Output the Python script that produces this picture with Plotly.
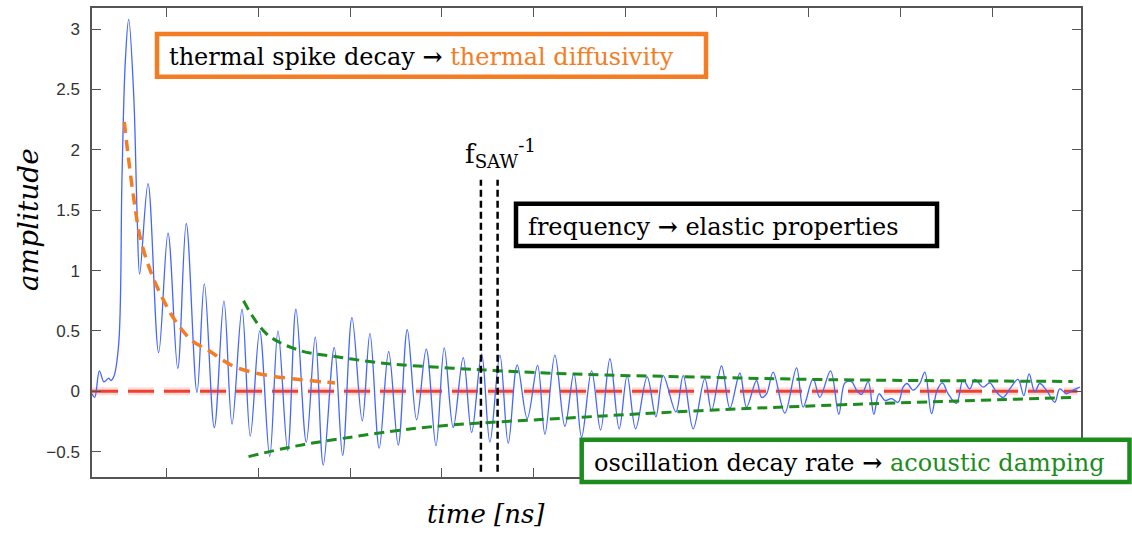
import plotly.graph_objects as go

# ---------------- data ----------------
signal_t = [0.185, 0.215, 0.265, 0.313, 0.338, 0.367, 0.392, 0.422, 0.476, 0.512,
            0.548, 0.585, 0.640, 0.676, 0.705, 0.796, 0.912, 1.014, 1.120, 1.213,
            1.330, 1.410, 1.519, 1.624, 1.712, 1.821, 1.911, 2.014, 2.123, 2.213,
            2.319, 2.409, 2.522, 2.620, 2.707, 2.827, 2.918, 3.020, 3.132, 3.216,
            3.317, 3.420, 3.525, 3.623, 3.725, 3.830, 3.936, 4.026, 4.124, 4.233,
            4.325, 4.434, 4.524, 4.633, 4.724, 4.822, 4.931, 5.044, 5.124, 5.233,
            5.342, 5.440, 5.524, 5.633, 5.731, 5.833, 5.934, 6.021, 6.113, 6.239,
            6.334, 6.414, 6.552, 6.632, 6.741, 6.868, 6.941, 7.050, 7.141, 7.250,
            7.323, 7.432, 7.486, 7.541, 7.613, 7.740, 7.868, 7.940, 8.049, 8.122,
            8.239, 8.329, 8.395, 8.468, 8.522, 8.577, 8.649, 8.711, 8.768, 8.831,
            8.904, 8.976, 9.030, 9.074, 9.139, 9.212, 9.267, 9.340, 9.401, 9.459,
            9.521, 9.612, 9.684, 9.757, 9.812, 9.902, 9.975, 10.048, 10.120, 10.193,
            10.284, 10.346, 10.404, 10.466, 10.520, 10.593, 10.684, 10.738, 10.811, 10.884,
            10.957]
signal_amp = [-0.02, -0.05, 0.17, 0.08, 0.09, 0.11, 0.09, 0.12, 0.39, 1.77,
              2.73, 3.08, 2.45, 1.49, 0.97, 1.72, 0.32, 1.31, 0.19, 1.39,
              -0.01, 0.89, -0.30, 0.75, -0.27, 0.68, -0.37, 0.50, -0.54, 0.50,
              -0.49, 0.68, -0.42, 0.45, -0.61, 0.365, -0.53, 0.61, -0.245, 0.48,
              -0.47, 0.33, -0.445, 0.51, -0.235, 0.35, -0.45, 0.36, -0.30, 0.28,
              -0.34, 0.31, -0.42, 0.30, -0.43, 0.22, -0.225, 0.215, -0.355, 0.30,
              -0.29, 0.15, -0.38, 0.17, -0.32, 0.27, -0.31, 0.13, -0.31, 0.12,
              -0.21, 0.13, -0.17, 0.13, -0.31, 0.105, -0.16, 0.21, -0.14, 0.15,
              -0.13, 0.09, -0.05, -0.02, 0.16, -0.18, 0.195, -0.13, 0.105, -0.05,
              0.17, -0.19, 0.07, 0.08, 0.01, -0.025, 0.08, -0.19, -0.02, -0.075,
              -0.06, -0.09, 0.035, 0.065, 0.01, 0.065, 0.16, -0.185, 0.01, 0.07,
              -0.02, -0.10, 0.095, 0.02, 0.10, 0.035, 0.07, -0.005, -0.05, 0.02,
              0.10, -0.035, 0.145, -0.005, 0.065, 0.01, -0.09, 0.02, -0.02, 0.01,
              0.035]

thermal_t = [0.537, 0.578, 0.640, 0.712, 0.821, 0.948, 1.093, 1.276, 1.458, 1.712,
             2.003, 2.366, 2.729, 2.835]
thermal_amp = [2.23, 1.96, 1.60, 1.27, 1.00, 0.78, 0.585, 0.42, 0.338, 0.214,
               0.146, 0.105, 0.077, 0.07]

upper_env_t = [1.837, 2.090, 2.453, 2.816, 3.289, 3.507, 4.415, 5.451, 6.814, 8.231, 10.880]
upper_env_amp = [0.75, 0.475, 0.338, 0.29, 0.24, 0.223, 0.179, 0.143, 0.118, 0.097, 0.082]

lower_env_t = [1.892, 2.366, 2.911, 3.870, 5.506, 6.814, 8.231, 10.913]
lower_env_amp = [-0.54, -0.459, -0.39, -0.294, -0.215, -0.16, -0.115, -0.05]

baseline_t = [0.185, 10.93]
baseline_amp = [0.0, 0.0]

saw_period_t = [4.426, 4.608]
saw_marker_amp = [-0.665, 1.753]

y_ticks = [-0.5, 0, 0.5, 1, 1.5, 2, 2.5, 3]
y_tick_labels = ["\u22120.5", "0", "0.5", "1", "1.5", "2", "2.5", "3"]
x_ticks = [1, 2, 3, 4, 5, 6, 7, 8, 9, 10]

# ---------------- styling ----------------
W, H = 1132, 534
L, R, T, B = 92, 1081, 6, 477

def fx(px):
    return (px - L) / (R - L)

def fy(py):
    return (B - py) / (B - T)

BLUE = "#4566ff"
RED = "#f0402e"
ORANGE = "#f47d23"
GREEN = "#1c8c1c"
SERIF = "DejaVu Serif"

fig = go.Figure()

# red zero line (with soft glow)
fig.add_trace(go.Scatter(x=baseline_t, y=baseline_amp, mode="lines",
                         line=dict(color="rgba(240,64,46,0.18)", width=8, dash="26px,10px"),
                         hoverinfo="skip", showlegend=False))
fig.add_trace(go.Scatter(x=baseline_t, y=baseline_amp, mode="lines",
                         line=dict(color=RED, width=3, dash="26px,10px"),
                         showlegend=False))

# signal
fig.add_trace(go.Scatter(x=signal_t, y=signal_amp, mode="lines",
                         line=dict(color=BLUE, width=1.3, shape="spline", smoothing=1.0),
                         showlegend=False))

# thermal decay
fig.add_trace(go.Scatter(x=thermal_t, y=thermal_amp, mode="lines",
                         line=dict(color=ORANGE, width=3.5, dash="11px,7px", shape="spline"),
                         showlegend=False))

# oscillation envelopes
for et, ea in ((upper_env_t, upper_env_amp), (lower_env_t, lower_env_amp)):
    fig.add_trace(go.Scatter(x=et, y=ea, mode="lines",
                             line=dict(color=GREEN, width=3, dash="10px,6px", shape="spline"),
                             showlegend=False))

# SAW period markers
for st in saw_period_t:
    fig.add_trace(go.Scatter(x=[st, st], y=saw_marker_amp, mode="lines",
                             line=dict(color="black", width=2.5, dash="7px,4px"),
                             showlegend=False))

axis_common = dict(showgrid=False, zeroline=False, showline=True, linecolor="#555555",
                   linewidth=1.5, mirror="ticks", ticks="inside", ticklen=9,
                   tickcolor="#555555", tickwidth=1.3)

fig.update_xaxes(range=[0.185, 10.97], tickmode="array", tickvals=x_ticks,
                 showticklabels=False, **axis_common)
fig.update_yaxes(range=[-0.709, 3.174], tickmode="array", tickvals=y_ticks,
                 ticktext=y_tick_labels, ticklabelstandoff=7,
                 tickfont=dict(family="Liberation Sans", size=17, color="#333333"),
                 **axis_common)

shapes = [
    dict(type="rect", xref="paper", yref="paper", x0=fx(157), x1=fx(706), y0=fy(75), y1=fy(32),
         line=dict(color=ORANGE, width=4.5), fillcolor="white", layer="above"),
    dict(type="rect", xref="paper", yref="paper", x0=fx(516), x1=fx(937), y0=fy(245), y1=fy(202.5),
         line=dict(color="black", width=4.5), fillcolor="white", layer="above"),
    dict(type="rect", xref="paper", yref="paper", x0=fx(581.7), x1=fx(1129.5), y0=fy(482), y1=fy(439.5),
         line=dict(color=GREEN, width=4.5), fillcolor="white", layer="above"),
]

ann_font = dict(family=SERIF, size=24, color="black")
ARROW = "<b>\u2192</b>"
annotations = [
    dict(xref="paper", yref="paper", x=fx(167), y=fy(55), xanchor="left", yanchor="middle",
         showarrow=False, font=ann_font,
         text="thermal spike decay %s <span style='color:%s'>thermal diffusivity</span>" % (ARROW, ORANGE)),
    dict(xref="paper", yref="paper", x=fx(526), y=fy(225), xanchor="left", yanchor="middle",
         showarrow=False, font=ann_font,
         text="frequency %s elastic properties" % ARROW),
    dict(xref="paper", yref="paper", x=fx(592), y=fy(462), xanchor="left", yanchor="middle",
         showarrow=False, font=ann_font,
         text="oscillation decay rate %s <span style='color:%s'>acoustic damping</span>" % (ARROW, GREEN)),
    dict(xref="paper", yref="paper", x=fx(463), y=fy(152), xanchor="left", yanchor="middle",
         showarrow=False, font=dict(family=SERIF, size=26, color="black"),
         text="f<sub>SAW</sub><sup>-1</sup>"),
    dict(xref="paper", yref="paper", x=fx(28), y=fy(219), xanchor="center", yanchor="middle",
         showarrow=False, textangle=-90, font=dict(family=SERIF, size=28, color="black"),
         text="<i>amplitude</i>"),
    dict(xref="paper", yref="paper", x=fx(486), y=fy(514), xanchor="center", yanchor="middle",
         showarrow=False, font=dict(family=SERIF, size=26, color="black"),
         text="<i>time [ns]</i>"),
]

fig.update_layout(width=W, height=H, margin=dict(l=L, r=W - R, t=T, b=H - B),
                  paper_bgcolor="white", plot_bgcolor="white",
                  shapes=shapes, annotations=annotations, showlegend=False)

fig.write_html("out.html")
